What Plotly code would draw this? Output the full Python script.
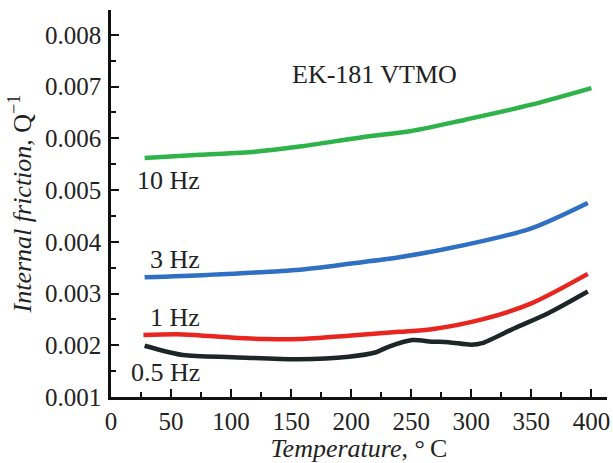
import plotly.graph_objects as go

t_10 = [28, 74, 120, 157, 212, 250, 295, 350, 400]
q_10 = [0.00562, 0.00568, 0.00574, 0.00584, 0.00603, 0.00614, 0.00636, 0.00665, 0.00697]

t_3 = [28, 80, 157, 200, 240, 295, 350, 397]
q_3 = [0.003315, 0.00336, 0.00346, 0.00358, 0.0037, 0.00394, 0.00426, 0.00475]

t_1 = [27, 60, 100, 129, 157, 200, 240, 267, 309, 350, 397]
q_1 = [0.0022, 0.00221, 0.00215, 0.00212, 0.00212, 0.00219, 0.00226, 0.00231, 0.0025, 0.00281, 0.00338]

t_05 = [28, 60, 101, 157, 198, 220, 231, 251, 267, 281, 300, 309, 336, 364, 397]
q_05 = [0.00199, 0.00181, 0.00177, 0.00173, 0.00178, 0.00186, 0.00197, 0.0021, 0.00207, 0.00206, 0.00201, 0.00204, 0.00233, 0.00262, 0.00304]

series = [
    (t_10, q_10, "#2db34a", "10 Hz"),
    (t_3, q_3, "#2f6fc4", "3 Hz"),
    (t_1, q_1, "#e8261f", "1 Hz"),
    (t_05, q_05, "#1c2626", "0.5 Hz"),
]

font = "Liberation Serif, Times New Roman, serif"
fig = go.Figure()
for t, q, c, name in series:
    fig.add_trace(go.Scatter(x=t, y=q, mode="lines", name=name,
                             line=dict(color=c, width=4.5, shape="spline", smoothing=0.8)))

labels = [("10 Hz", 48, 0.00518), ("3 Hz", 53, 0.00365), ("1 Hz", 53, 0.00253), ("0.5 Hz", 45, 0.00148)]
for txt, x, y in labels:
    fig.add_annotation(x=x, y=y, text=txt, showarrow=False, font=dict(family=font, size=26, color="#222"))
fig.add_annotation(x=219, y=0.00723, text="EK-181 VTMO", showarrow=False,
                   font=dict(family=font, size=26, color="#222"))

axis_common = dict(showline=True, linecolor="#111", linewidth=2.5, ticks="inside",
                   tickcolor="#111", tickwidth=2, ticklen=8, showgrid=False, zeroline=False,
                   mirror=False, tickfont=dict(family=font, size=25, color="#222"),
                   ticklabeloverflow="allow")
fig.update_xaxes(range=[0, 413], dtick=50, tick0=0,
                 minor=dict(ticks="inside", dtick=25, ticklen=5, tickwidth=1.5, tickcolor="#111"),
                 title=dict(text="<i>Temperature</i>, °\u2009C", font=dict(family=font, size=26, color="#222"), standoff=2),
                 ticklabelstandoff=0, **axis_common)
fig.update_yaxes(range=[0.001, 0.00848], dtick=0.001, tick0=0.001, tickformat=".3f",
                 minor=dict(ticks="inside", dtick=0.0005, ticklen=5, tickwidth=1.5, tickcolor="#111"),
                 title=dict(text="<i>Internal friction</i>, Q<sup>−1</sup>", font=dict(family=font, size=26, color="#222"), standoff=6),
                 ticklabelstandoff=2, **axis_common)

fig.update_layout(width=613, height=463, margin=dict(l=111, r=3, t=10, b=66),
                  paper_bgcolor="white", plot_bgcolor="white", showlegend=False)
fig.write_html("out.html")
